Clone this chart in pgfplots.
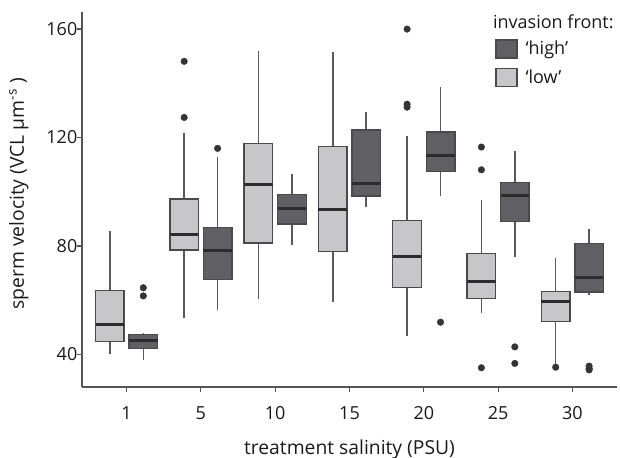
\documentclass[border=0pt]{standalone}
\usepackage{fontspec}
\setmainfont{Open Sans}
\usepackage{pgfplots}
\pgfplotsset{compat=1.18}
\definecolor{lowfill}{HTML}{C7C7C9}
\definecolor{highfill}{HTML}{606064}
\definecolor{edgecol}{HTML}{4A4A4E}
\definecolor{medcol}{HTML}{2C2C2E}
\definecolor{whiskcol}{HTML}{5A5A5C}
\definecolor{ptcol}{HTML}{343436}
\definecolor{axisgray}{HTML}{555555}
\definecolor{txtcol}{HTML}{1A1A1A}
% #1 left edge, #2 right edge, #3 centre, #4 lower whisker, #5 Q1, #6 median, #7 Q3, #8 upper whisker, #9 fill
\newcommand{\bx}[9]{%
  \addplot[draw=whiskcol, line width=1.6bp, forget plot] coordinates {(#3,#4) (#3,#8)};
  \addplot[fill=#9, draw=edgecol, line width=1.4bp, line join=miter, line cap=rect, forget plot]
    coordinates {(#1,#5) (#2,#5) (#2,#7) (#1,#7) (#1,#5)};
  \addplot[draw=medcol, line width=3bp, forget plot] coordinates {(#1,#6) (#2,#6)};
}
\pgfplotsset{outl/.style={only marks, mark=*, mark size=3.3bp, draw=ptcol, fill=ptcol, forget plot}}
\begin{document}
\begin{tikzpicture}
\useasboundingbox (-82bp,-71bp) rectangle (538bp,387bp);
\begin{axis}[
  at={(0,0)}, anchor=south west,
  scale only axis, width=535bp, height=375bp,
  xmin=0.4, xmax=7.6, ymin=28.0, ymax=166.3,
  axis x line*=bottom, axis y line*=left,
  axis line style={draw=axisgray, line width=1.6bp, -},
  xtick={1,2,3,4,5,6,7}, xticklabels={1,5,10,15,20,25,30},
  ytick={40,80,120,160},
  tick style={draw=axisgray, line width=1.2bp},
  tick align=outside, major tick length=4.5bp,
  /pgf/number format/assume math mode=true,
  tick label style={font=\fontsize{18bp}{22bp}\selectfont, text=txtcol},
  xticklabel style={inner sep=0pt, yshift=-15bp},
  yticklabel style={inner sep=0pt, xshift=0bp},
  label style={font=\fontsize{19.3bp}{23bp}\selectfont, text=txtcol},
  xlabel={treatment salinity (PSU)},
  ylabel={sperm velocity (VCL µm\textsuperscript{-s} )},
  x label style={at={(rel axis cs:0.5,0)}, anchor=base, yshift=-67bp, inner sep=0pt},
  y label style={at={([xshift=-58bp]rel axis cs:0,0.515)}, anchor=base, inner sep=0pt},
  legend style={at={(rel axis cs:0.772,0.928)}, anchor=north west, draw=none, fill=none,
    inner sep=0pt, font=\fontsize{18bp}{22bp}\selectfont, text=txtcol,
    row sep=9.5bp, column sep=8bp, nodes={inner sep=0pt}},
  legend cell align=left,
]
\addlegendimage{legend image code/.code={\draw[fill=highfill, draw=edgecol, line width=1.4bp] (0bp,-9bp) rectangle (21bp,9bp);}}
\addlegendentry{‘high’}
\addlegendimage{legend image code/.code={\draw[fill=lowfill, draw=edgecol, line width=1.4bp] (0bp,-9bp) rectangle (21bp,9bp);}}
\addlegendentry{‘low’}

% salinity 1
\bx{0.5825}{0.9675}{0.775}{40.3}{44.8}{51.1}{63.6}{85.4}{lowfill}
\bx{1.0325}{1.4175}{1.225}{37.9}{42.3}{45.3}{47.4}{48.0}{highfill}
\addplot[outl] coordinates {(1.225,61.6) (1.225,64.6)};
% salinity 5
\bx{1.5825}{1.9675}{1.775}{53.3}{78.5}{84.4}{97.4}{121.8}{lowfill}
\addplot[outl] coordinates {(1.775,127.4) (1.775,148.1)};
\bx{2.0325}{2.4175}{2.225}{56.5}{67.6}{78.3}{86.8}{112.9}{highfill}
\addplot[outl] coordinates {(2.225,116.0)};
% salinity 10
\bx{2.5825}{2.9675}{2.775}{60.6}{81.1}{102.5}{117.7}{152.0}{lowfill}
\bx{3.0325}{3.4175}{3.225}{80.5}{88.1}{93.9}{98.9}{106.6}{highfill}
% salinity 15
\bx{3.5825}{3.9675}{3.775}{59.3}{78.0}{93.3}{116.6}{151.6}{lowfill}
\bx{4.0325}{4.4175}{4.225}{94.4}{98.5}{103.1}{122.8}{129.6}{highfill}
% salinity 20
\bx{4.5825}{4.9675}{4.775}{46.8}{64.6}{76.2}{89.3}{120.7}{lowfill}
\addplot[outl] coordinates {(4.775,131.2) (4.775,132.3) (4.775,160.0)};
\bx{5.0325}{5.4175}{5.225}{98.5}{107.5}{113.5}{122.1}{138.8}{highfill}
\addplot[outl] coordinates {(5.225,51.9)};
% salinity 25
\bx{5.5825}{5.9675}{5.775}{55.4}{60.7}{66.8}{77.2}{97.1}{lowfill}
\addplot[outl] coordinates {(5.775,35.1) (5.775,108.1) (5.775,116.5)};
\bx{6.0325}{6.4175}{6.225}{76.0}{89.1}{98.6}{103.4}{115.1}{highfill}
\addplot[outl] coordinates {(6.225,36.7) (6.225,42.8)};
% salinity 30
\bx{6.5825}{6.9675}{6.775}{35.6}{52.2}{59.5}{63.2}{75.6}{lowfill}
\addplot[outl] coordinates {(6.775,35.3)};
\bx{7.0325}{7.4175}{7.225}{62.1}{63.1}{68.2}{81.0}{86.3}{highfill}
\addplot[outl] coordinates {(7.225,34.3) (7.225,34.8) (7.225,35.7)};

\node[anchor=base west, inner sep=0pt, text=txtcol, font=\fontsize{18bp}{22bp}\selectfont] at (rel axis cs:0.768,0.957) {invasion front:};
\end{axis}
\end{tikzpicture}
\end{document}
